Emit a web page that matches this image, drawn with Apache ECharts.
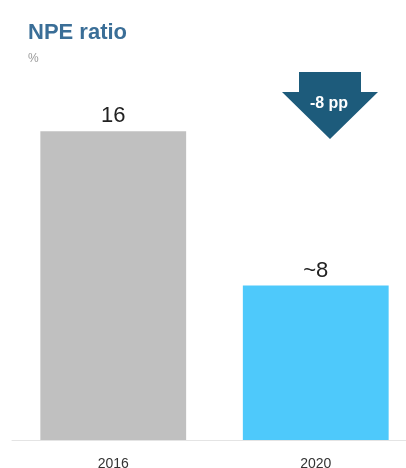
<!DOCTYPE html>
<html>
<head>
<meta charset="utf-8">
<script src="https://cdn.jsdelivr.net/npm/echarts@6/dist/echarts.min.js"></script>
<style>
  html, body { margin: 0; padding: 0; background: #fff; }
  #chart { width: 406px; height: 468px; }
</style>
</head>
<body>
<div id="chart"></div>
<script>
// NPE ratio, in percent
const years = ['2016', '2020'];
const npeValues = [16, 8];
const valueLabels = ['16', '~8'];
const barColors = ['#c0c0c0', '#4ec9fb'];
const changeText = '-8 pp';

const chart = echarts.init(document.getElementById('chart'), null, { renderer: 'canvas' });

const option = {
  animation: false,
  backgroundColor: '#ffffff',
  grid: { left: 12, top: 54, width: 405, height: 386, containLabel: false, outerBoundsMode: 'none' },
  title: [
    {
      text: 'NPE ratio', left: 23, top: 17,
      textStyle: { fontFamily: 'Liberation Sans, Arial, sans-serif', fontSize: 22, fontWeight: 'bold', color: '#3a6e97' }
    },
    {
      text: '%', left: 23, top: 48,
      textStyle: { fontFamily: 'Liberation Sans, Arial, sans-serif', fontSize: 12, fontWeight: 'normal', color: '#9a9a9a' }
    }
  ],
  xAxis: {
    type: 'category',
    data: years,
    axisLine: { show: true, lineStyle: { color: '#e4e4e4', width: 1 } },
    axisTick: { show: false },
    axisLabel: { margin: 17, fontFamily: 'Liberation Sans, Arial, sans-serif', fontSize: 14, color: '#333' }
  },
  yAxis: {
    type: 'value', min: 0, max: 20,
    show: false, splitLine: { show: false }
  },
  series: [{
    type: 'bar',
    data: npeValues.map((v, i) => ({ value: v, itemStyle: { color: barColors[i] } })),
    barCategoryGap: '28%',
    label: {
      show: true, position: 'top', distance: 4,
      formatter: p => valueLabels[p.dataIndex],
      fontFamily: 'Liberation Sans, Arial, sans-serif', fontSize: 22, color: '#222'
    }
  }],
  graphic: [
    {
      type: 'polygon',
      shape: { points: [[299, 72], [361, 72], [361, 92], [378, 92], [330, 139], [282, 92], [299, 92]] },
      style: { fill: '#1d5b7b' }
    },
    {
      type: 'text', x: 329, y: 104,
      style: {
        text: changeText, fill: '#fff', align: 'center', verticalAlign: 'middle',
        font: 'bold 16px "Liberation Sans", Arial, sans-serif'
      }
    }
  ]
};

chart.setOption(option);
</script>
</body>
</html>
